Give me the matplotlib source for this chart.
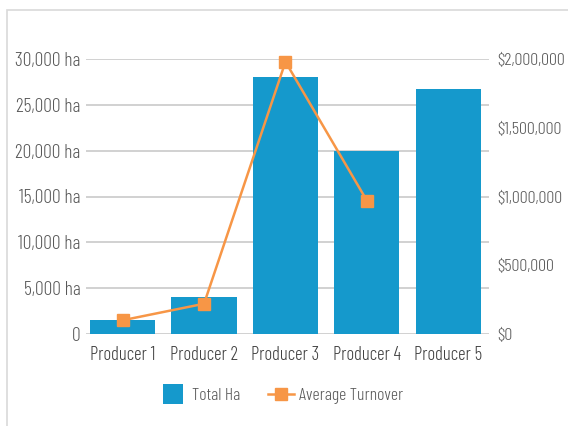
import matplotlib
matplotlib.use('Agg')
import matplotlib.pyplot as plt
from matplotlib.patches import Rectangle
from matplotlib.lines import Line2D
from matplotlib.ticker import FuncFormatter
import numpy as np

producers = ['Producer 1', 'Producer 2', 'Producer 3', 'Producer 4', 'Producer 5']
total_ha = [1500, 4000, 28000, 20000, 26700]
avg_turnover = [100000, 220000, 1980000, 970000, np.nan]

bar_color = '#1599CC'
line_color = '#F79646'
grid_color = '#C9C9C9'
text_color = '#595959'

plt.rcParams['font.family'] = ['Barlow Condensed', 'Roboto Condensed', 'DejaVu Sans']
plt.rcParams['font.weight'] = 300

fig = plt.figure(figsize=(5.68, 4.26), dpi=100)
# outer chart frame (only left and top edges show)
fig.patches.append(Rectangle((6.5 / 568, -0.1), 1.2, 1 - 9.5 / 426 + 0.1,
                             transform=fig.transFigure, fill=False,
                             edgecolor='#D9D9D9', linewidth=1.2))

ax1 = fig.add_axes([86 / 568, 92 / 426, 403 / 568, 275 / 426])
x = np.arange(len(producers))
ax1.bar(x, total_ha, width=0.8, color=bar_color, zorder=2)
ax1.set_xlim(-0.45, 4.5)
ax1.set_ylim(0, 30000)
ax1.set_yticks(range(0, 30001, 5000))
ax1.yaxis.set_major_formatter(FuncFormatter(lambda v, p: '0' if v == 0 else '{:,.0f} ha'.format(v)))
ax1.grid(axis='y', color=grid_color, linewidth=1.2, zorder=0)
ax1.set_axisbelow(True)
for s in ax1.spines.values():
    s.set_visible(False)
ax1.tick_params(axis='both', length=0, colors=text_color)
ax1.tick_params(axis='y', pad=4, labelsize=14)
ax1.tick_params(axis='x', pad=9, labelsize=13.5, labelcolor='#404040')
ax1.set_xticks(x)
ax1.set_xticklabels(producers)

ax2 = ax1.twinx()
ax2.plot(x, avg_turnover, color=line_color, linewidth=1.8, marker='s',
         markersize=9, zorder=3, clip_on=False)
ax2.set_ylim(0, 2000000)
ax2.set_yticks(range(0, 2000001, 500000))
ax2.yaxis.set_major_formatter(FuncFormatter(lambda v, p: '${:,.0f}'.format(v)))
for s in ax2.spines.values():
    s.set_visible(False)
ax2.tick_params(axis='y', length=0, labelsize=13, colors=text_color, pad=6)

handles = [Line2D([0], [0], linestyle='none', marker='s', markersize=14,
                  markerfacecolor=bar_color, markeredgewidth=0),
           Line2D([0], [0], color=line_color, linewidth=1.8, marker='s', markersize=9)]
leg = fig.legend(handles, ['Total Ha', 'Average Turnover'], loc='center',
                 bbox_to_anchor=(282 / 568, 1 - 396 / 426), ncol=2, frameon=False,
                 fontsize=12.8, handlelength=1.45, handletextpad=0.3,
                 columnspacing=1.6)
for t in leg.get_texts():
    t.set_color(text_color)

fig.savefig('out.png', dpi=100)
